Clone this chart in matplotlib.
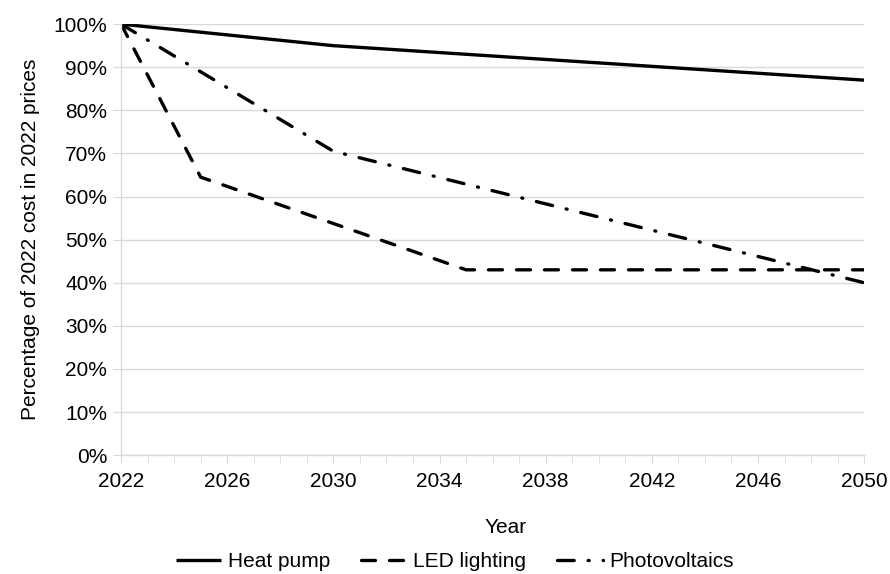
import matplotlib
matplotlib.use("Agg")
import matplotlib.pyplot as plt
from matplotlib.ticker import MultipleLocator, PercentFormatter

plt.rcParams["font.family"] = ["Liberation Sans", "DejaVu Sans"]

# series values (percent of 2022 cost)
heat_years = [2022, 2030, 2050]
heat_pump = [100, 95, 87]

led_years = [2022, 2025, 2035, 2050]
led_lighting = [100, 64.5, 43, 43]

pv_years = [2022, 2030, 2050]
photovoltaics = [100, 70.5, 40]

x_ticks = list(range(2022, 2051, 4))
y_ticks = list(range(0, 101, 10))

fs = 15

fig = plt.figure(figsize=(8.9, 5.74), dpi=100)
ax = fig.add_axes([0.136, 0.207, 0.835, 0.751])

lw = 2.4
ax.plot(heat_years, heat_pump, color="black", linewidth=lw, label="Heat pump",
        solid_capstyle="butt")
ax.plot(led_years, led_lighting, color="black", linewidth=lw, label="LED lighting",
        linestyle=(0, (4.2, 4.2)), dash_capstyle="round")
ax.plot(pv_years, photovoltaics, color="black", linewidth=lw, label="Photovoltaics",
        linestyle=(0, (5, 4.2, 0.3, 4.2)), dash_capstyle="round")

ax.set_xlim(2022, 2050)
ax.set_ylim(0, 100)
ax.set_xticks(x_ticks)
ax.xaxis.set_minor_locator(MultipleLocator(1))
ax.set_yticks(y_ticks)
ax.yaxis.set_major_formatter(PercentFormatter(decimals=0))

ax.grid(axis="y", color="#d9d9d9", linewidth=1)
ax.set_axisbelow(True)
for side in ("top", "right"):
    ax.spines[side].set_visible(False)
for side in ("left", "bottom"):
    ax.spines[side].set_color("#d9d9d9")
    ax.spines[side].set_linewidth(1)

ax.tick_params(axis="x", which="both", direction="out", length=6, color="#d9d9d9",
               labelsize=fs, pad=6)
ax.tick_params(axis="y", length=6, color="#d9d9d9", labelsize=fs, pad=4)

ax.set_xlabel("Year", fontsize=fs)
ax.xaxis.set_label_coords(0.517, -0.145)
ax.set_ylabel("Percentage of 2022 cost in 2022 prices", fontsize=fs, labelpad=10)

handles, labels = ax.get_legend_handles_labels()
fig.legend(handles, labels, loc="center", bbox_to_anchor=(0.511, 0.022), ncol=3,
           frameon=False, fontsize=fs, handlelength=2.2, handletextpad=0.3,
           columnspacing=1.5)

fig.savefig("out.png", dpi=100)
